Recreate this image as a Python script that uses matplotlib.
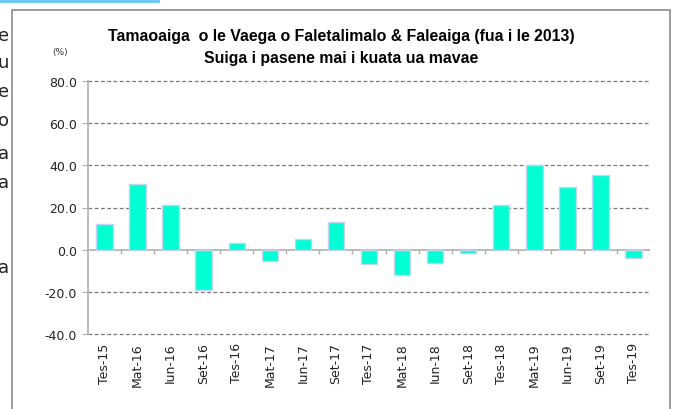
import matplotlib
matplotlib.use("Agg")
import matplotlib.pyplot as plt
from matplotlib.patches import Rectangle
from matplotlib.lines import Line2D

# data
quarters = ["Tes-15", "Mat-16", "Iun-16", "Set-16", "Tes-16", "Mat-17", "Iun-17", "Set-17",
            "Tes-17", "Mat-18", "Iun-18", "Set-18", "Tes-18", "Mat-19", "Iun-19", "Set-19", "Tes-19"]
change_pct = [12.3, 31.0, 21.0, -19.3, 3.3, -5.4, 5.2, 13.1,
              -7.0, -11.9, -6.3, -1.6, 21.0, 40.3, 29.7, 35.2, -3.8]
yticks = [-40, -20, 0, 20, 40, 60, 80]

title1 = "Tamaoaiga  o le Vaega o Faletalimalo & Faleaiga (fua i le 2013)"
title2 = "Suiga i pasene mai i kuata ua mavae"

W, H = 676, 410
fig = plt.figure(figsize=(W / 100, H / 100), dpi=100)

# surrounding document bits (page frame, header rule, clipped text at left margin)
fig.add_artist(Rectangle((12 / W, -0.05), (670 - 12) / W, 1.05 - 11 / H,
                         transform=fig.transFigure, fill=False, edgecolor="#8c8c8c", lw=1.2))
fig.add_artist(Line2D([0, 158 / W], [1 - 2 / H, 1 - 2 / H], transform=fig.transFigure,
                      color="#5fc8f2", lw=2))
for ch, yp in zip(["e", "u", "e", "o", "a", "a", "a"], [36, 63, 92, 121, 154, 183, 268]):
    fig.text(9 / W, 1 - yp / H, ch, ha="right", va="center", fontsize=13, color="#222222",
             family="DejaVu Sans")

ax = fig.add_axes([88 / W, 1 - 335 / H, (650 - 88) / W, (335 - 82) / H])
x = list(range(len(quarters)))
ax.bar(x, change_pct, width=0.5, color="#00ffd2", edgecolor="#c4d4f5", linewidth=1.0, zorder=3)

ax.set_xlim(-0.5, len(quarters) - 0.5)
ax.set_ylim(-40, 80)
ax.set_yticks(yticks)
ax.set_yticklabels([f"{v:.1f}" for v in yticks], fontsize=9, color="#222222")
for v in yticks:
    if v != 0:
        ax.axhline(v, color="#777777", lw=0.9, ls=(0, (3, 2)), zorder=1, clip_on=False)
ax.axhline(0, color="#b0b0b0", lw=1.2, zorder=2)
bounds = [i + 0.5 for i in x]
ax.vlines(bounds, -2.0, 0, color="#b0b0b0", lw=1.0, zorder=2)

ax.set_xticks(x)
ax.set_xticklabels(quarters, rotation=90, fontsize=9, color="#222222")
ax.tick_params(axis="x", length=0, pad=6)
ax.tick_params(axis="y", length=4, color="#b0b0b0", pad=4)
for s in ["top", "right", "bottom"]:
    ax.spines[s].set_visible(False)
ax.spines["left"].set_color("#b0b0b0")
ax.spines["left"].set_linewidth(1.2)

tfam = ["Liberation Sans", "DejaVu Sans"]
fig.text(341 / W, 1 - 37 / H, title1, ha="center", va="center", fontsize=11.4,
         fontweight="bold", family=tfam)
fig.text(341 / W, 1 - 58 / H, title2, ha="center", va="center", fontsize=11.4,
         fontweight="bold", family=tfam)
fig.text(60 / W, 1 - 52 / H, "(%)", ha="center", va="center", fontsize=6.5, color="#333333")

fig.savefig("out.png", dpi=100)
